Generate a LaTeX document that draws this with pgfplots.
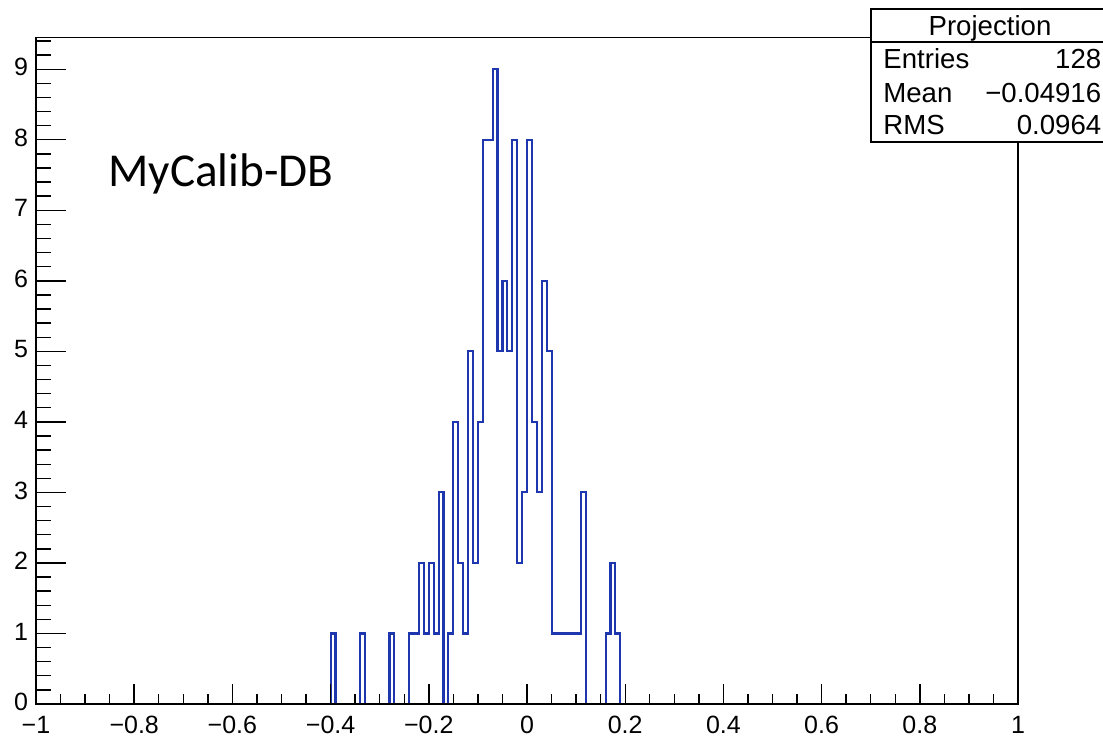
\documentclass[border=0pt]{standalone}
\usepackage{pgfplots}
\pgfplotsset{compat=1.18}
\usepackage{fontspec}
\setmainfont{Liberation Sans}
\newfontfamily\calibri{Carlito}
\definecolor{rootblue}{RGB}{30,55,175}
\begin{document}
\begin{tikzpicture}
\begin{axis}[
  at={(18pt,16pt)}, anchor=south west,
  scale only axis, width=491pt, height=333.25pt,
  xmin=-1, xmax=1, ymin=0, ymax=9.45,
  axis on top=true,
  axis line style={black, line width=0.75pt},
  every tick/.style={black, line width=0.7pt},
  tick align=inside,
  xtick pos=bottom, ytick pos=left,
  xtick={-1,-0.8,-0.6,-0.4,-0.2,0,0.2,0.4,0.6,0.8,1},
  xticklabels={−1,−0.8,−0.6,−0.4,−0.2,0,0.2,0.4,0.6,0.8,1},
  ytick={0,1,2,3,4,5,6,7,8,9,10},
  yticklabels={0,1,2,3,4,5,6,7,8,9,10},
  minor x tick num=3, minor y tick num=4,
  x tick style={/pgfplots/major tick length=10pt,/pgfplots/minor tick length=5pt},
  y tick style={/pgfplots/major tick length=15pt,/pgfplots/minor tick length=7.5pt},
  tick label style={font=\fontsize{12.5pt}{15pt}\selectfont},
  xticklabel style={yshift=-2.5pt},
  yticklabel style={xshift=-0.5pt, yshift=1pt},
]
\addplot[const plot mark left, rootblue, line width=1.05pt, mark=none] coordinates {
(-1,0) (-0.40,1) (-0.39,0) (-0.34,1) (-0.33,0) (-0.28,1) (-0.27,0)
(-0.24,1) (-0.23,1) (-0.22,2) (-0.21,1) (-0.20,2) (-0.19,1) (-0.18,3)
(-0.17,0) (-0.16,1) (-0.15,4) (-0.14,2) (-0.13,1) (-0.12,5) (-0.11,2)
(-0.10,4) (-0.09,8) (-0.08,8) (-0.07,9) (-0.06,5) (-0.05,6) (-0.04,5)
(-0.03,8) (-0.02,2) (-0.01,3) (0.00,8) (0.01,4) (0.02,3) (0.03,6)
(0.04,5) (0.05,1) (0.06,1) (0.07,1) (0.08,1) (0.09,1) (0.10,1)
(0.11,3) (0.12,0) (0.16,1) (0.17,2) (0.18,1) (0.19,0) (1,0)
};
\end{axis}
% label
\node[anchor=base west, inner sep=0pt, font=\calibri\fontsize{23.6pt}{28pt}\selectfont] at (54pt,275pt) {MyCalib-DB};
% stats box
\draw[line width=0.6pt, fill=white] (435.5pt,297pt) rectangle (565pt,363.5pt);
\draw[line width=0.6pt] (435.5pt,347pt) -- (565pt,347pt);
\begin{scope}[every node/.style={inner sep=0pt, font=\fontsize{13.8pt}{16pt}\selectfont}]
\node[anchor=base] at (495pt,350.5pt) {Projection};
\node[anchor=base west] at (441.5pt,334pt) {Entries};
\node[anchor=base west] at (441.5pt,317pt) {Mean};
\node[anchor=base west] at (441.5pt,301pt) {RMS};
\node[anchor=base east] at (550.8pt,334pt) {128};
\node[anchor=base east] at (550.8pt,317pt) {−0.04916};
\node[anchor=base east] at (550.8pt,301pt) {0.0964};
\end{scope}
\pgfresetboundingbox
\path[use as bounding box] (0pt,0pt) rectangle (551.5pt,368pt);
\end{tikzpicture}
\end{document}
